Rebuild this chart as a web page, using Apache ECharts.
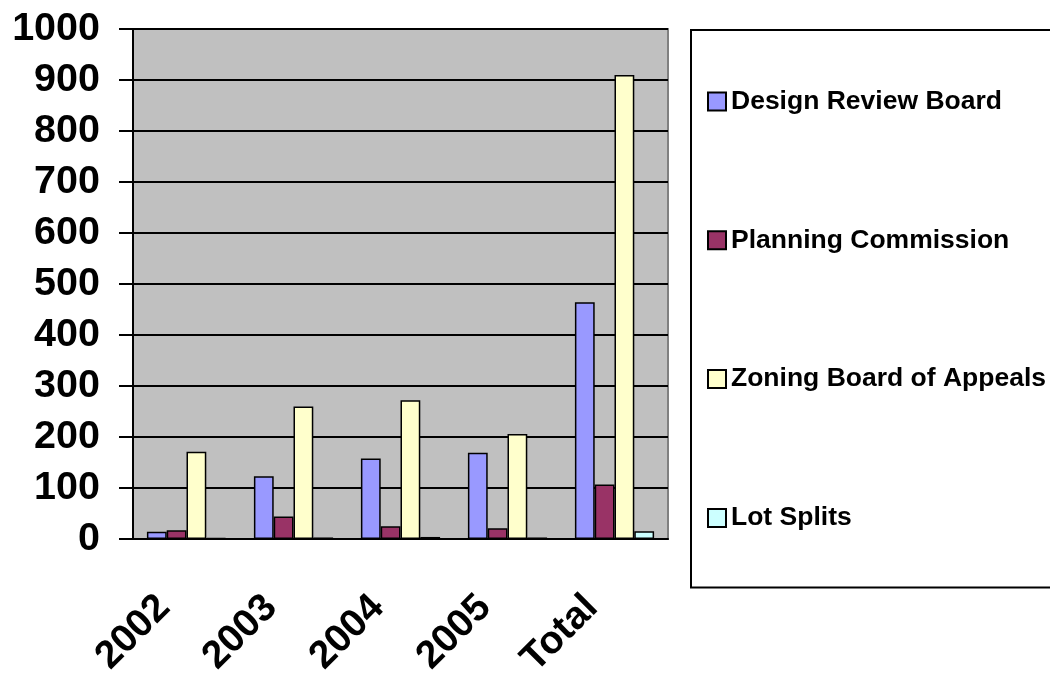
<!DOCTYPE html>
<html>
<head>
<meta charset="utf-8">
<script src="https://cdn.jsdelivr.net/npm/echarts@6/dist/echarts.min.js"></script>
<style>
  html, body { margin: 0; padding: 0; background: #fff; }
  #chart { width: 1050px; height: 675px; }
</style>
</head>
<body>
<div id="chart"></div>
<script>
// --- data ---
const categories = ['2002', '2003', '2004', '2005', 'Total'];
const designReview = [14, 123, 158, 169, 464];
const planning = [17, 44, 25, 21, 107];
const zoning = [171, 260, 272, 206, 910];
const lotSplits = [2, 3, 4, 3, 15];

const FONT = 'Liberation Sans, Arial, sans-serif';

const makeSeries = (name, data, color) => ({
  name: name,
  type: 'bar',
  data: data,
  barGap: '0%',
  barCategoryGap: '26%',
  itemStyle: {
    color: color,
    borderColor: '#000',
    borderWidth: 1.5
  }
});

const chart = echarts.init(document.getElementById('chart'));

chart.setOption({
  animation: false,
  grid: {
    left: 133,
    top: 29,
    right: 382,
    bottom: 136,
    outerBoundsMode: 'none',
    containLabel: false,
    show: true,
    backgroundColor: '#C0C0C0',
    borderColor: '#808080',
    borderWidth: 2
  },
  legend: {
    orient: 'vertical',
    left: 691,
    top: 30,
    padding: [58, 30, 56, 16],
    itemGap: 111.8,
    itemWidth: 18,
    itemHeight: 18,
    icon: 'rect',
    backgroundColor: '#fff',
    borderColor: '#000',
    borderWidth: 2,
    borderRadius: 0,
    textStyle: {
      fontFamily: FONT,
      fontSize: 26.5,
      fontWeight: 'bold',
      color: '#000',
      lineHeight: 26
    }
  },
  xAxis: {
    type: 'category',
    data: categories,
    axisLine: { lineStyle: { color: '#000', width: 2 } },
    axisTick: { length: 12, lineStyle: { color: '#000', width: 2 } },
    axisLabel: {
      rotate: 45,
      margin: 40,
      padding: [0, 32, 0, 0],
      interval: 0,
      fontFamily: FONT,
      fontSize: 39,
      fontWeight: 'bold',
      color: '#000'
    }
  },
  yAxis: {
    type: 'value',
    min: 0,
    max: 1000,
    interval: 100,
    axisLine: { show: true, lineStyle: { color: '#000', width: 2 } },
    axisTick: { show: true, length: 14, lineStyle: { color: '#000', width: 2 } },
    splitLine: { lineStyle: { color: '#000', width: 2 } },
    axisLabel: {
      margin: 33,
      formatter: (v) => String(v),
      fontFamily: FONT,
      fontSize: 39.5,
      fontWeight: 'bold',
      color: '#000'
    }
  },
  series: [
    makeSeries('Design Review Board', designReview, '#9999FF'),
    makeSeries('Planning Commission', planning, '#993366'),
    makeSeries('Zoning Board of Appeals', zoning, '#FFFFCC'),
    makeSeries('Lot Splits', lotSplits, '#CCFFFF')
  ]
});
</script>
</body>
</html>
